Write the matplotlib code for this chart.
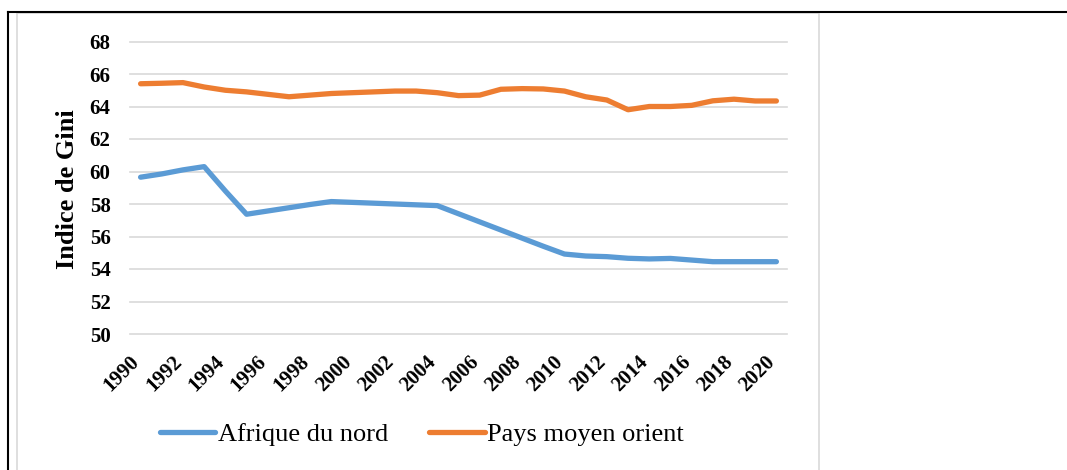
import matplotlib
matplotlib.use('Agg')
import matplotlib.pyplot as plt
import matplotlib.transforms as mtransforms
from matplotlib.lines import Line2D
from matplotlib.patches import Rectangle

years = list(range(1990, 2021))
afrique_nord = [59.65, 59.85, 60.1, 60.3, 58.8, 57.37, 57.57, 57.77, 57.97, 58.15,
                58.1, 58.05, 58.0, 57.95, 57.9, 57.4, 56.9, 56.4, 55.9, 55.4,
                54.92, 54.8, 54.76, 54.66, 54.62, 54.65, 54.55, 54.45, 54.45, 54.45,
                54.45]
moyen_orient = [65.4, 65.43, 65.47, 65.2, 65.0, 64.9, 64.75, 64.6, 64.7, 64.8,
                64.85, 64.9, 64.95, 64.95, 64.85, 64.67, 64.7, 65.06, 65.1, 65.08,
                64.95, 64.6, 64.4, 63.8, 64.0, 64.0, 64.07, 64.35, 64.45, 64.34,
                64.34]
yticks = list(range(50, 70, 2))
xticks = years[::2]

plt.rcParams['font.family'] = ['Liberation Serif', 'DejaVu Serif']

fig = plt.figure(figsize=(10.67, 4.70), dpi=100)
W, H = 1067, 470
ax = fig.add_axes([130 / W, 1 - 334 / H, 657 / W, (334 - 41.5) / H])

ax.plot(years, afrique_nord, color='#5B9BD5', lw=3.8, solid_capstyle='round',
        solid_joinstyle='round', label='Afrique du nord', zorder=3)
ax.plot(years, moyen_orient, color='#ED7D31', lw=3.8, solid_capstyle='round',
        solid_joinstyle='round', label='Pays moyen orient', zorder=3)

ax.set_xlim(1989.5, 2020.5)
ax.set_ylim(50, 68)
ax.set_yticks(yticks)
ax.set_xticks(xticks)
ax.set_xticklabels([str(y) for y in xticks], rotation=45, ha='right',
                   fontsize=15, fontweight='bold')
ax.set_yticklabels([str(v) for v in yticks], fontsize=15, fontweight='bold')
ax.tick_params(axis='y', length=0, pad=14)
ax.tick_params(axis='x', length=0, pad=13)
shift = mtransforms.ScaledTranslation(3 / 100, 0, fig.dpi_scale_trans)
for lbl in ax.get_xticklabels():
    lbl.set_transform(lbl.get_transform() + shift)
ax.grid(axis='y', color='#D9D9D9', lw=1.2)
for gl in ax.get_ygridlines():
    gl.set_clip_on(False)
for s in ax.spines.values():
    s.set_visible(False)

fig.text(67 / W, 1 - 189 / H, 'Indice de Gini', rotation=90, ha='center',
         va='center', fontsize=19, fontweight='bold')

fig.legend(loc='center', bbox_to_anchor=(422 / W, 1 - 434 / H), ncol=2,
           frameon=False, fontsize=19, handlelength=2.1, handletextpad=0.1,
           columnspacing=1.55)

# table-cell borders around the chart
fig.add_artist(Rectangle((17 / W, -0.1), (819 - 17) / W, 1.1 - 13 / H,
                         transform=fig.transFigure, fill=False,
                         edgecolor='#D9D9D9', lw=1.2))
fig.add_artist(Line2D([8 / W, 1], [1 - 12 / H, 1 - 12 / H],
                      transform=fig.transFigure, color='black', lw=1.5))
fig.add_artist(Line2D([8 / W, 8 / W], [0, 1 - 12 / H],
                      transform=fig.transFigure, color='black', lw=1.5))

fig.savefig('out.png', dpi=100)
